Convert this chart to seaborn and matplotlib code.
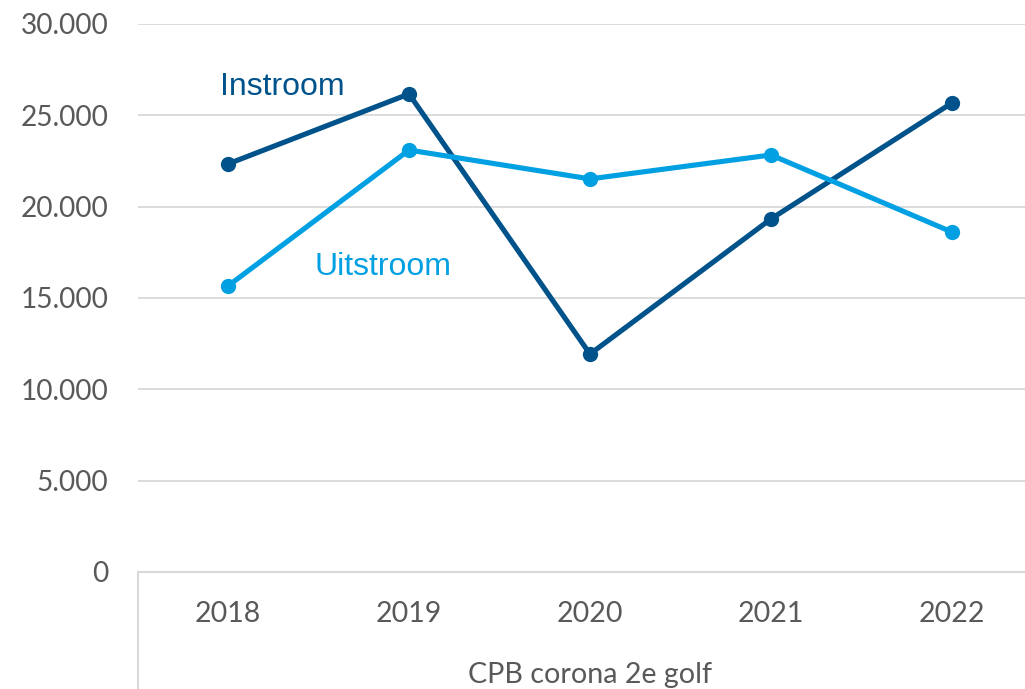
import matplotlib
matplotlib.use("Agg")
import matplotlib.pyplot as plt
import matplotlib.ticker as mticker
import seaborn as sns
import pandas as pd

years = ["2018", "2019", "2020", "2021", "2022"]
instroom = [22340, 26170, 11930, 19330, 25680]
uitstroom = [15660, 23100, 21520, 22830, 18610]
series_names = ["Instroom", "Uitstroom"]
group_label = "CPB corona 2e golf"
yticks = [0, 5000, 10000, 15000, 20000, 25000, 30000]

df = pd.DataFrame({
    "jaar": years * 2,
    "waarde": instroom + uitstroom,
    "reeks": [series_names[0]] * len(years) + [series_names[1]] * len(years),
})

sns.set_theme(style="white")
plt.rcParams["font.family"] = ["Lato", "DejaVu Sans"]

dark = "#00528A"
light = "#00A0E2"
grey_text = "#595959"
grid_col = "#D9D9D9"

fig = plt.figure(figsize=(10.25, 6.89), dpi=100)
ax = fig.add_axes([137.5 / 1025, 1 - 572 / 689, 905 / 1025, 548 / 689])

sns.lineplot(data=df, x="jaar", y="waarde", hue="reeks", palette=[dark, light],
             marker="o", markersize=11, markeredgewidth=0, linewidth=3.7,
             sort=False, legend=False, ax=ax)

ax.set_xlim(-0.5, 4.5)
ax.set_ylim(0, 30000)
ax.set_yticks(yticks)
ax.yaxis.set_major_formatter(mticker.FuncFormatter(
    lambda v, p: "0" if v == 0 else f"{int(v):,}".replace(",", ".")))
ax.grid(axis="y", color=grid_col, linewidth=1.3)
ax.set_axisbelow(True)
for s in ["left", "right", "top"]:
    ax.spines[s].set_visible(False)
ax.spines["bottom"].set_color(grid_col)
ax.spines["bottom"].set_linewidth(1.5)
ax.tick_params(axis="y", length=0, pad=21, labelsize=20.2, labelcolor=grey_text)
ax.tick_params(axis="x", length=0, pad=21, labelsize=20.5, labelcolor=grey_text)
ax.set_xlabel("")
ax.set_ylabel("")

# category group divider and group label
ax.plot([0, 0], [0, -0.3], transform=ax.transAxes, color=grid_col,
        linewidth=1.5, clip_on=False)
ax.text(2, -0.188, group_label, transform=ax.get_xaxis_transform(),
        ha="center", va="center", fontsize=20.6, color=grey_text)

ax.text(-0.045, 26550, series_names[0], color=dark, fontsize=23,
        family=["Liberation Sans", "DejaVu Sans"], ha="left", va="center")
ax.text(0.48, 16700, series_names[1], color=light, fontsize=23,
        family=["Liberation Sans", "DejaVu Sans"], ha="left", va="center")

fig.savefig("out.png", dpi=100)
